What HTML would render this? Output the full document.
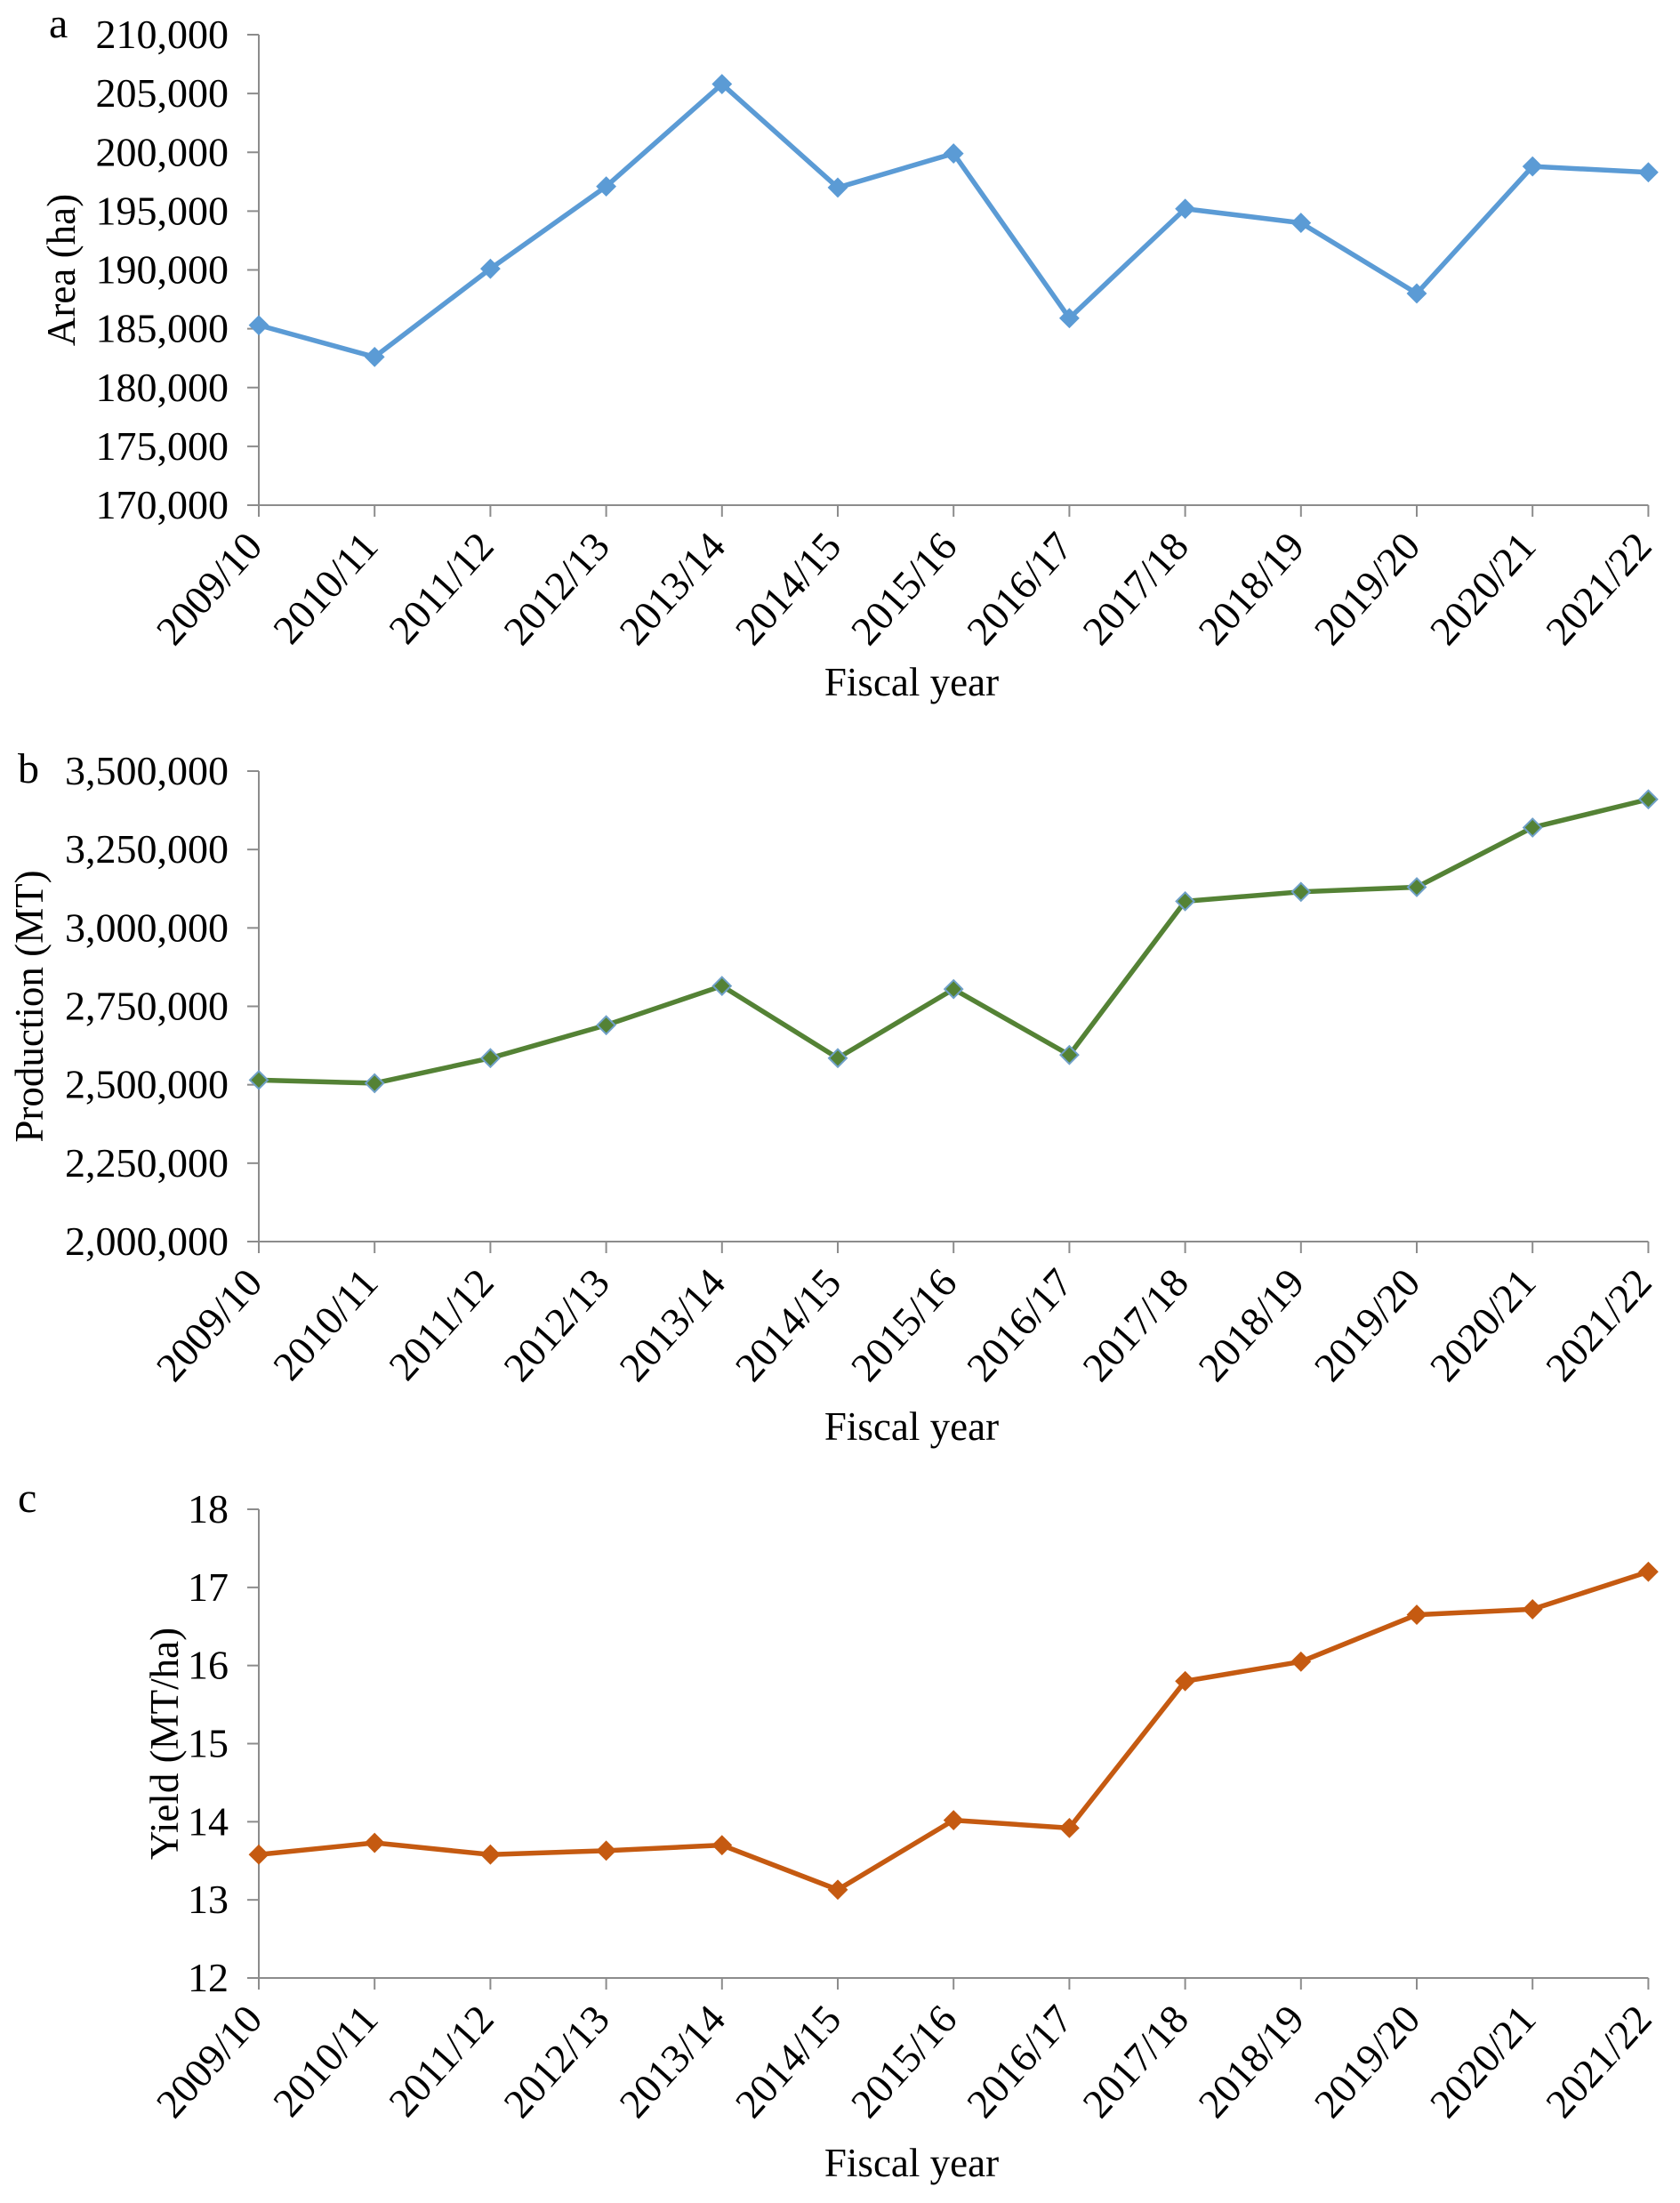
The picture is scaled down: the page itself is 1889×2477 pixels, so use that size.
<!DOCTYPE html>
<html><head><meta charset="utf-8"><style>
body{margin:0;background:#fff}
svg{display:block}
text{font-family:"Liberation Serif",serif;fill:#000}
</style></head><body>
<svg id="s" width="1889" height="2477"></svg>
<script>
const categories=["2009/10","2010/11","2011/12","2012/13","2013/14","2014/15","2015/16","2016/17","2017/18","2018/19","2019/20","2020/21","2021/22"];
const areaValues=[185300,182600,190100,197100,205800,197000,199900,185900,195200,194000,188000,198800,198300];
const productionValues=[2515000,2505000,2585000,2690000,2815000,2585000,2805000,2595000,3085000,3115000,3130000,3320000,3410000];
const yieldValues=[13.58,13.73,13.58,13.63,13.70,13.13,14.02,13.92,15.80,16.05,16.65,16.72,17.20];
const areaTicks=[170000,175000,180000,185000,190000,195000,200000,205000,210000];
const productionTicks=[2000000,2250000,2500000,2750000,3000000,3250000,3500000];
const yieldTicks=[12,13,14,15,16,17,18];

const NS="http://www.w3.org/2000/svg";
const svg=document.getElementById('s');
function mk(tag,attrs,parent){const e=document.createElementNS(NS,tag);for(const k in attrs)e.setAttribute(k,attrs[k]);(parent||svg).appendChild(e);return e;}
const fmt=v=>v.toLocaleString('en-US');

function chart(cfg){
  const g=mk('g',{});
  
  
  const x0=291,step=130.2;
  const xs=i=>x0+i*step;
  const ymin=cfg.ticks[0],ymax=cfg.ticks[cfg.ticks.length-1];
  const ys=v=>cfg.bottom-(v-ymin)/(ymax-ymin)*(cfg.bottom-cfg.top);
  const ax=mk('line',{x1:x0,y1:cfg.top,x2:x0,y2:cfg.bottom,stroke:'#8c8c8c','stroke-width':2},g);
  
  const bx=mk('line',{x1:x0-13,y1:cfg.bottom,x2:xs(12),y2:cfg.bottom,stroke:'#8c8c8c','stroke-width':2},g);
  
  cfg.ticks.forEach(t=>{
    const y=ys(t);
    mk('line',{x1:x0-13,y1:y,x2:x0,y2:y,stroke:'#8c8c8c','stroke-width':2},g);
    const tx=mk('text',{x:257,y:y+15,'text-anchor':'end','font-size':46},g);
    tx.textContent=cfg.fmt(t);
    
  });
  categories.forEach((c,i)=>{
    const x=xs(i);
    mk('line',{x1:x,y1:cfg.bottom,x2:x,y2:cfg.bottom+13,stroke:'#8c8c8c','stroke-width':2},g);
    const ax2=x+6,ay=cfg.bottom+48;
    const tx=mk('text',{x:ax2,y:ay,'text-anchor':'end','font-size':46,transform:`rotate(-48 ${ax2} ${ay})`},g);
    tx.textContent=c;
    
  });
  const pts=cfg.values.map((v,i)=>xs(i)+','+ys(v)).join(' ');
  const pl=mk('polyline',{points:pts,fill:'none',stroke:cfg.color,'stroke-width':5.5,'stroke-linejoin':'round'},g);
  
  cfg.values.forEach((v,i)=>{
    const x=xs(i),y=ys(v),r=10;
    const m=mk('polygon',{points:`${x},${y-r} ${x+r},${y} ${x},${y+r} ${x-r},${y}`,fill:cfg.color,stroke:cfg.mstroke,'stroke-width':2},g);
    
  });
  const yt=mk('text',{x:0,y:0,'text-anchor':'middle','font-size':45,transform:`translate(${cfg.ytx},${(cfg.top+cfg.bottom)/2}) rotate(-90)`},g);
  yt.textContent=cfg.ytitle;
  
  const xt=mk('text',{x:1025,y:cfg.xty,'text-anchor':'middle','font-size':45},g);
  xt.textContent='Fiscal year';
  
  const pl2=mk('text',{x:cfg.lx,y:cfg.ly,'font-size':48},g);
  pl2.textContent=cfg.letter;
  
}
chart({name:'area-chart',values:areaValues,ticks:areaTicks,top:39,bottom:568,color:'#5b9bd5',mstroke:'#5b9bd5',fmt:fmt,ytitle:'Area (ha)',ytx:84,xty:782,letter:'a',lx:55,ly:42});
chart({name:'production-chart',values:productionValues,ticks:productionTicks,top:867,bottom:1396,color:'#548235',mstroke:'#6fa0c8',fmt:fmt,ytitle:'Production (MT)',ytx:48,xty:1619,letter:'b',lx:20,ly:880});
chart({name:'yield-chart',values:yieldValues,ticks:yieldTicks,top:1697,bottom:2224,color:'#c55a11',mstroke:'#c55a11',fmt:v=>String(v),ytitle:'Yield (MT/ha)',ytx:200,xty:2447,letter:'c',lx:20,ly:1700});
</script>
</body></html>
